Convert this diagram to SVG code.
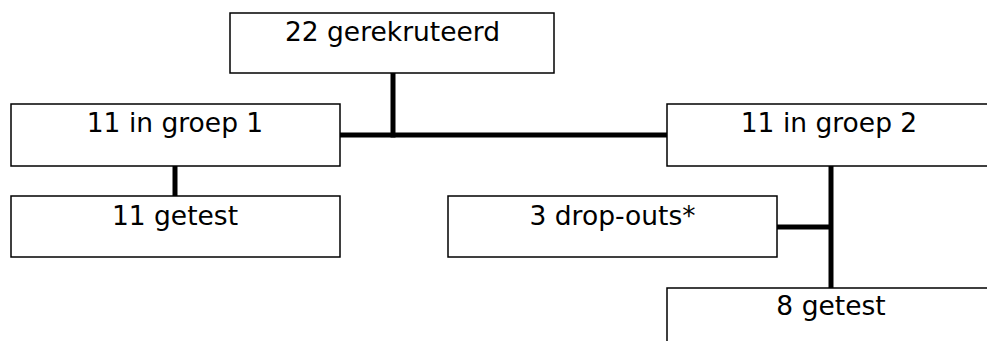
<svg xmlns="http://www.w3.org/2000/svg" width="987" height="341" viewBox="0 0 987 341">
<style>
.box{fill:#fff;stroke:#000;stroke-width:1.5}
.lbl{font-family:"DejaVu Sans",Verdana,sans-serif;font-size:26.5px;fill:#000;text-anchor:middle}
.conn{stroke:#000;stroke-width:5;fill:none}
</style>
<rect width="987" height="341" fill="#fff"/>
<g id="connectors">
<line class="conn" x1="393" y1="73" x2="393" y2="137.5"/>
<line class="conn" x1="340" y1="135" x2="667" y2="135"/>
<line class="conn" x1="175" y1="166" x2="175" y2="196"/>
<line class="conn" x1="831" y1="166" x2="831" y2="288"/>
<line class="conn" x1="777" y1="227" x2="831" y2="227"/>
</g>
<g id="n_gerekruteerd">
<rect class="box" x="230" y="13" width="324" height="60"/>
<text class="lbl" x="392.5" y="40.5">22 gerekruteerd</text>
</g>
<g id="n_groep1">
<rect class="box" x="11" y="104" width="329" height="62"/>
<text class="lbl" x="175" y="132">11 in groep 1</text>
</g>
<g id="n_groep2">
<rect class="box" x="667" y="104" width="324" height="62"/>
<text class="lbl" x="829" y="132">11 in groep 2</text>
</g>
<g id="n_getest1">
<rect class="box" x="11" y="196" width="329" height="61"/>
<text class="lbl" x="175" y="225">11 getest</text>
</g>
<g id="n_dropouts">
<rect class="box" x="448" y="196" width="329" height="61"/>
<text class="lbl" x="612.5" y="225">3 drop-outs*</text>
</g>
<g id="n_getest2">
<rect class="box" x="667" y="288" width="324" height="62"/>
<text class="lbl" x="831" y="315">8 getest</text>
</g>
</svg>
